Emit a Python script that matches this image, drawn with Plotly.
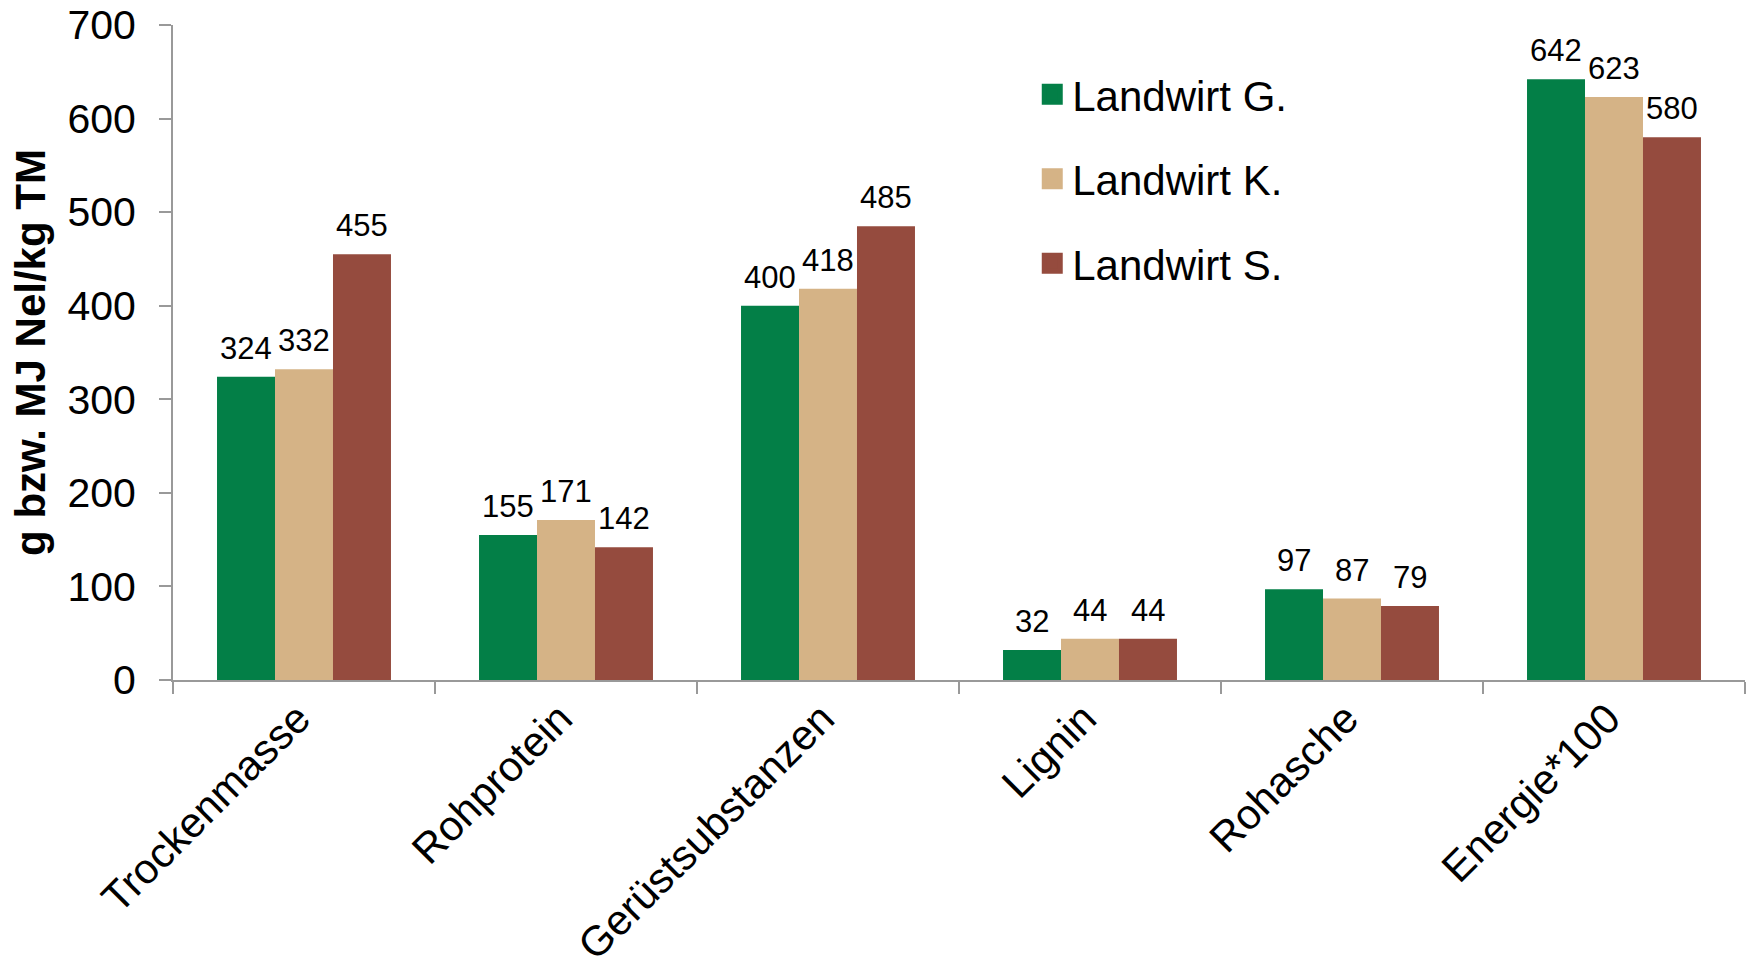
import plotly.graph_objects as go

# Feed components per farmer
categories = ["Trockenmasse", "Rohprotein", "Gerüstsubstanzen", "Lignin", "Rohasche", "Energie*100"]
landwirt_g = [324, 155, 400, 32, 97, 642]
landwirt_k = [332, 171, 418, 44, 87, 623]
landwirt_s = [455, 142, 485, 44, 79, 580]

series_names = ["Landwirt G.", "Landwirt K.", "Landwirt S."]
series_values = [landwirt_g, landwirt_k, landwirt_s]
series_colors = ["#037F47", "#D5B386", "#954B3E"]

y_ticks = [0, 100, 200, 300, 400, 500, 600, 700]

FONT = "Liberation Sans, Arial, sans-serif"
BAR_PX = 58  # rendered width of one bar inside a group

fig = go.Figure()
for i, (name, vals, col) in enumerate(zip(series_names, series_values, series_colors)):
    fig.add_trace(go.Bar(
        x=categories, y=vals, name=name, legendgroup=f"g{i}", showlegend=False,
        marker=dict(color=col, line=dict(width=0)),
    ))
    # legend entry with a larger square key
    fig.add_trace(go.Scatter(
        x=[None], y=[None], mode="markers", name=name, legendgroup=f"g{i}",
        marker=dict(symbol="square", size=16, color=col, line=dict(color=col, width=5)),
    ))

# value labels above each bar
annotations = []
for j, vals in enumerate(series_values):
    for cat, v in zip(categories, vals):
        annotations.append(dict(
            x=cat, y=v, xref="x", yref="y", text=str(v), showarrow=False,
            xanchor="center", yanchor="bottom", xshift=(j - 1) * BAR_PX, yshift=9,
            font=dict(family=FONT, size=31, color="#000000"),
        ))

fig.update_layout(
    width=1750, height=973,
    margin=dict(l=173, r=5, t=25, b=293),
    paper_bgcolor="white", plot_bgcolor="white",
    barmode="group", bargap=0.336, bargroupgap=0,
    font=dict(family=FONT, color="#000000"),
    annotations=annotations,
    showlegend=True,
    legend=dict(
        x=0.5466, y=0.946, xanchor="left", yanchor="top",
        font=dict(family=FONT, size=42, color="#000000"),
        bgcolor="rgba(0,0,0,0)", tracegroupgap=27,
        traceorder="grouped",
    ),
)

fig.update_xaxes(
    type="category", showgrid=False, automargin=False,
    showline=True, linecolor="#999999", linewidth=2,
    ticks="outside", ticklen=12, tickcolor="#999999", tickwidth=2,
    tickson="boundaries",
    ticklabelshift=-6, ticklabelstandoff=-5,
    tickangle=-45, tickfont=dict(family=FONT, size=42, color="#000000"),
)
fig.update_yaxes(
    range=[0, 700], tickvals=y_ticks, showgrid=False, zeroline=False, automargin=False,
    showline=True, linecolor="#999999", linewidth=2,
    ticks="outside", ticklen=12, tickcolor="#999999", tickwidth=2,
    ticklabelstandoff=15,
    tickfont=dict(family=FONT, size=41, color="#000000"),
    title=dict(text="<b>g bzw. MJ Nel/kg TM</b>", standoff=9,
               font=dict(family=FONT, size=42, color="#000000")),
)

fig.write_html("out.html")
